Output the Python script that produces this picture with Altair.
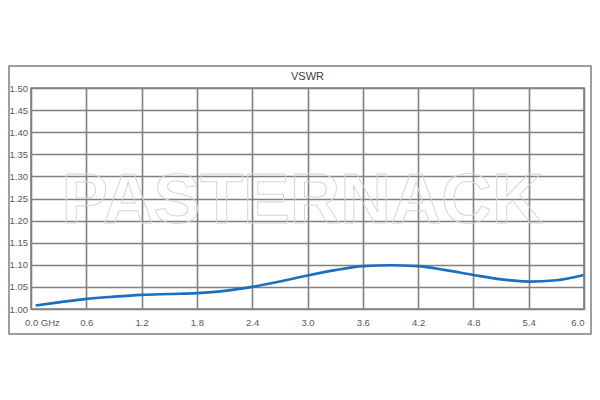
import altair as alt
import pandas as pd

freq = [0.05, 0.3, 0.6, 0.9, 1.2, 1.5, 1.8, 2.1, 2.4, 2.7, 3.0, 3.3, 3.6, 3.9, 4.2, 4.5, 4.8, 5.1, 5.4, 5.7, 6.0]
vswr = [1.008, 1.015, 1.023, 1.028, 1.032, 1.034, 1.036, 1.041, 1.050, 1.062, 1.076, 1.088, 1.097, 1.099, 1.097, 1.088, 1.077, 1.067, 1.062, 1.065, 1.077]

x_ticks = [0.0, 0.6, 1.2, 1.8, 2.4, 3.0, 3.6, 4.2, 4.8, 5.4, 6.0]
y_ticks = [1.00, 1.05, 1.10, 1.15, 1.20, 1.25, 1.30, 1.35, 1.40, 1.45, 1.50]

W, H = 553, 221
df = pd.DataFrame({"f": freq, "v": vswr})

xs = alt.Scale(domain=[0, 6], nice=False, zero=False)
ys = alt.Scale(domain=[1.0, 1.5], nice=False, zero=False)

xax = alt.Axis(values=x_ticks, tickCount=len(x_ticks), format=".1f", grid=True, gridColor="#808080",
               gridWidth=1.6, gridOpacity=1, domain=False, ticks=False, labelPadding=8, title=None,
               labelFont="Liberation Sans", labelFontSize=9.5, labelColor="#595959",
               labelOverlap=False, labelExpr="datum.value == 0 ? '' : datum.label")
yax = alt.Axis(values=y_ticks, tickCount=len(y_ticks), format=".2f", grid=True, gridColor="#808080",
               gridWidth=1.6, gridOpacity=1, domain=False, ticks=False, labelPadding=22,
               labelAlign="left", labelOverlap=False, title=None, labelFont="Liberation Sans",
               labelFontSize=9.5, labelColor="#595959")

base = alt.Chart(df)

frame = alt.Chart(pd.DataFrame({"a": [0]})).mark_rect(
    fill=None, stroke="#7f7f7f", strokeWidth=1.5
).encode(x=alt.value(-22), x2=alt.value(W + 7), y=alt.value(-22), y2=alt.value(H + 25))

border = alt.Chart(pd.DataFrame({"a": [0]})).mark_rect(
    fill=None, stroke="#808080", strokeWidth=1.6
).encode(x=alt.value(0), x2=alt.value(W), y=alt.value(0), y2=alt.value(H))

wm = alt.Chart(pd.DataFrame({"x": [2.94], "y": [1.1945], "t": ["PASTERNACK"]})).mark_text(
    font="Liberation Sans", fontWeight="bold", fontSize=70, fill="white", fillOpacity=0,
    stroke="#d6d6d6", strokeWidth=1, align="center", baseline="alphabetic"
).encode(x=alt.X("x:Q", scale=xs, axis=xax), y=alt.Y("y:Q", scale=ys, axis=yax), text="t:N")

line = base.mark_line(color="#1a6fbe", strokeWidth=2.6, interpolate="monotone").encode(
    x=alt.X("f:Q", scale=xs, axis=xax), y=alt.Y("v:Q", scale=ys, axis=yax)
)

zero_lab = alt.Chart(pd.DataFrame({"x": [0.0], "y": [1.0], "t": ["0.0  GHz"]})).mark_text(
    font="Liberation Sans", fontSize=9.5, color="#595959", align="left", baseline="top", dx=-6, dy=9
).encode(x=alt.X("x:Q", scale=xs, axis=xax), y=alt.Y("y:Q", scale=ys, axis=yax), text="t:N")

chart = alt.layer(wm, line, zero_lab, border, frame).properties(
    width=W, height=H,
    title=alt.TitleParams("VSWR", font="Liberation Sans", fontSize=11, fontWeight="normal",
                          color="#404040", offset=-17),
    autosize=alt.AutoSizeParams(type="none"),
    padding={"left": 23, "top": 80, "right": 8, "bottom": 40},
).configure_view(stroke=None)

chart.save("out.html", embed_options={"renderer": "svg", "actions": False})
